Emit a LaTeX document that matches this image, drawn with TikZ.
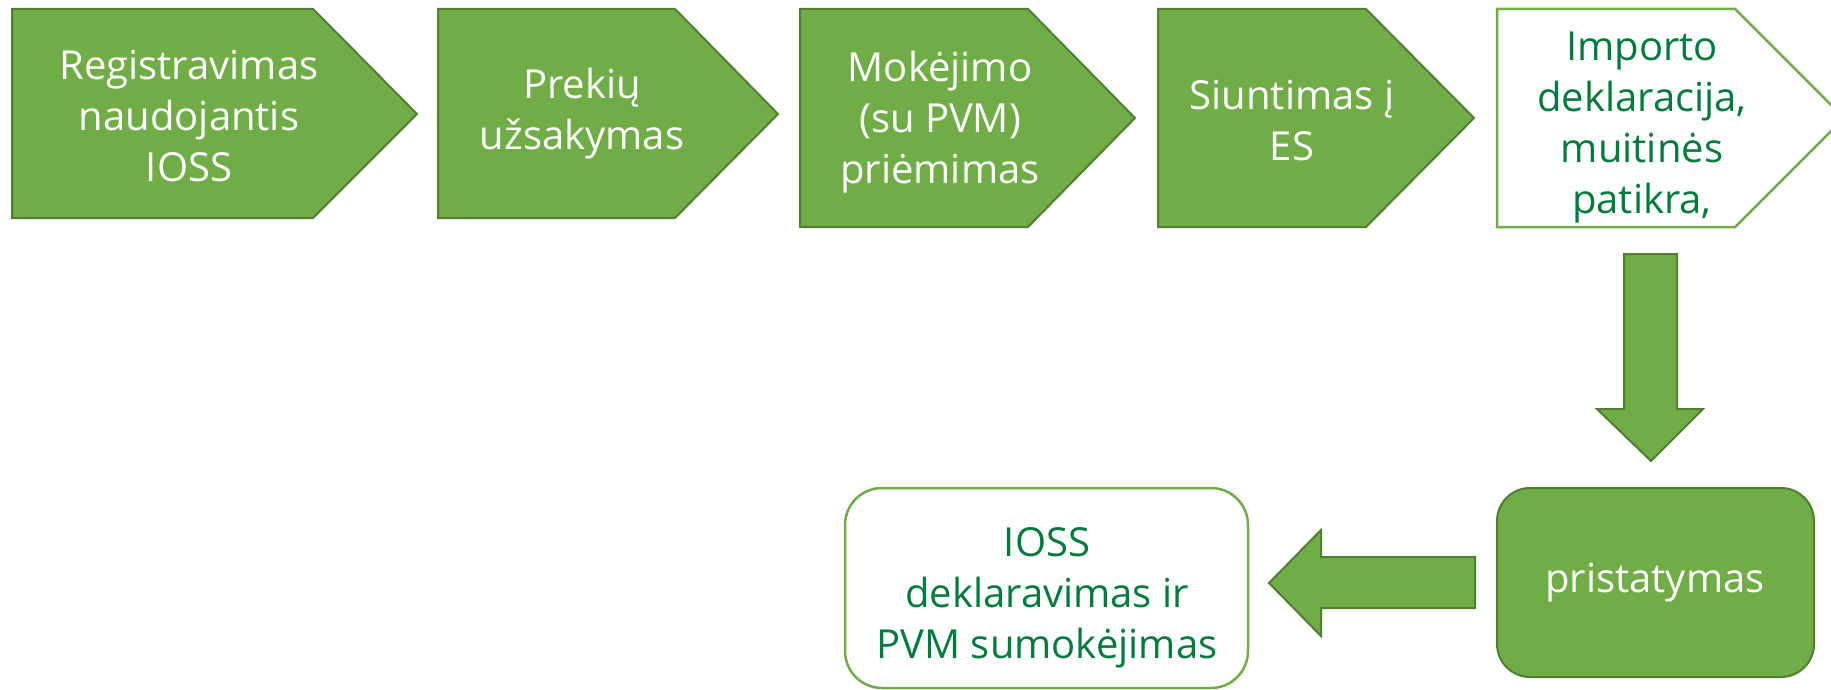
\documentclass[tikz,border=0pt]{standalone}
\usepackage{fontspec}
\setmainfont{Open Sans}
\definecolor{gfill}{HTML}{70AD47}
\definecolor{gdark}{HTML}{507E32}
\definecolor{gtext}{HTML}{007A3D}
\tikzset{
  greenshape/.style={fill=gfill, draw=gdark, line width=2pt, line join=miter},
  whiteshape/.style={fill=white, draw=gfill, line width=2.5pt, line join=miter},
  wtext/.style={text=white, align=center, inner sep=0pt, font=\fontsize{40}{51}\selectfont},
  gtextstyle/.style={text=gtext, align=center, inner sep=0pt, font=\fontsize{40}{51}\selectfont},
}
\begin{document}
\begin{tikzpicture}[x=1pt,y=-1pt]
\clip (0,0) rectangle (1831,690);
\fill[white] (0,0) rectangle (1831,690);
% pentagons
\draw[greenshape] (12,9) -- (313,9) -- (417,114) -- (313,218) -- (12,218) -- cycle;
\node[wtext] (n1) at (189,116) {Registravimas\\naudojantis\\IOSS};
\draw[greenshape] (438,9) -- (675,9) -- (778,114) -- (675,218) -- (438,218) -- cycle;
\node[wtext] (n2) at (582,114) {Prekių\\užsakymas};
\draw[greenshape] (800,9) -- (1028,9) -- (1135,118) -- (1028,227) -- (800,227) -- cycle;
\node[wtext] (n3) at (940,122) {Mokėjimo\\(su PVM)\\priėmimas};
\draw[greenshape] (1158,9) -- (1366,9) -- (1474,118) -- (1366,227) -- (1158,227) -- cycle;
\node[wtext] (n4) at (1292,121) {Siuntimas į\\ES};
\draw[whiteshape] (1497,9) -- (1735,9) -- (1844,118) -- (1735,227) -- (1497,227) -- cycle;
\node[gtextstyle] (n5) at (1642,128) {Importo\\deklaracija,\\muitinės\\patikra,};
% down arrow
\draw[greenshape] (1624,254) -- (1677,254) -- (1677,409) -- (1703,409) -- (1651,461) -- (1597,409) -- (1624,409) -- cycle;
% pristatymas
\draw[greenshape, rounded corners=33pt] (1497,488) rectangle (1814,677);
\node[wtext] (n6) at (1655,583) {pristatymas};
% left arrow
\draw[greenshape] (1475,557) -- (1475,608) -- (1321,608) -- (1321,636) -- (1269,583) -- (1321,530) -- (1321,557) -- cycle;
% IOSS box
\draw[whiteshape, rounded corners=37pt] (845,488) rectangle (1248,688);
\node[gtextstyle] (n7) at (1047,598) {IOSS\\deklaravimas ir\\PVM sumokėjimas};
\end{tikzpicture}
\end{document}
